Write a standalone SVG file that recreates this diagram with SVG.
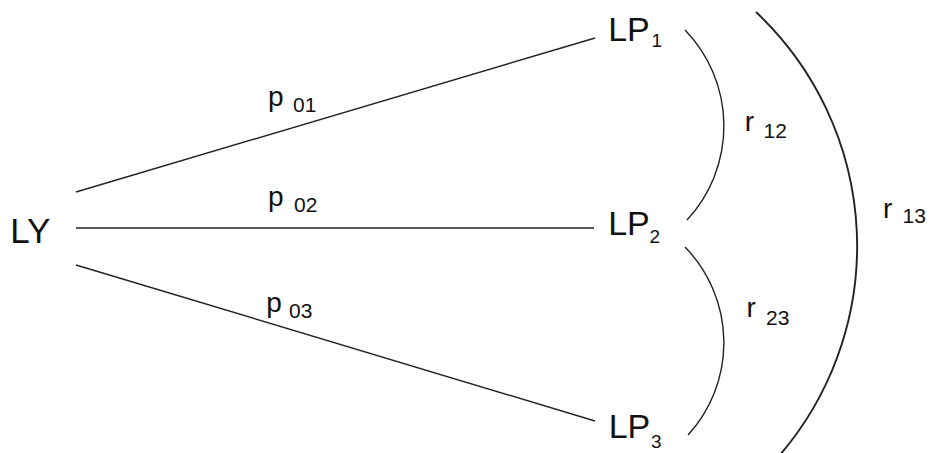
<svg xmlns="http://www.w3.org/2000/svg" width="932" height="453" viewBox="0 0 932 453">
<style>
text{font-family:"Liberation Sans",Arial,sans-serif;fill:#111}
.n{font-size:34px}
.l{font-size:28px}
.c{fill:none;stroke:#222;stroke-width:1.4}
.c2{fill:none;stroke:#222;stroke-width:1.9}
</style>
<rect width="932" height="453" fill="#fff"/>
<g id="connectors">
<line class="c" x1="76" y1="192" x2="595" y2="38"/>
<line class="c" x1="76" y1="228" x2="594" y2="228"/>
<line class="c" x1="76" y1="265" x2="595" y2="421"/>
<path class="c" d="M685,30 A138,138 0 0 1 687,220"/>
<path class="c" d="M685,247 A137,137 0 0 1 688,435"/>
<path class="c2" d="M756,12 A321.3,321.3 0 0 1 775.5,460"/>
<text class="l" x="268" y="105.7">p<tspan font-size="21" x="293" y="111.7">01</tspan></text>
<text class="l" x="268" y="205.7">p<tspan font-size="21" x="294" y="212.3">02</tspan></text>
<text class="l" x="266.3" y="311.7">p<tspan font-size="21" x="289" y="318.3">03</tspan></text>
<text class="l" x="744.8" y="130.7">r<tspan font-size="21" x="763.5" y="138.3">12</tspan></text>
<text class="l" x="746.4" y="317.3">r<tspan font-size="21" x="766" y="325">23</tspan></text>
<text class="l" x="883.1" y="218.3">r<tspan font-size="21" x="902.5" y="223.3">13</tspan></text>
</g>
<g id="LY"><text x="10.2" y="242.7" style="font-size:35px">LY</text></g>
<g id="LP1"><text class="n" x="608.2" y="40.7">LP<tspan font-size="19" x="651.5" y="46.7">1</tspan></text></g>
<g id="LP2"><text class="n" x="608.2" y="235">LP<tspan font-size="19" x="649.5" y="243">2</tspan></text></g>
<g id="LP3"><text class="n" x="608.7" y="438">LP<tspan font-size="19" x="651" y="448">3</tspan></text></g>
</svg>
